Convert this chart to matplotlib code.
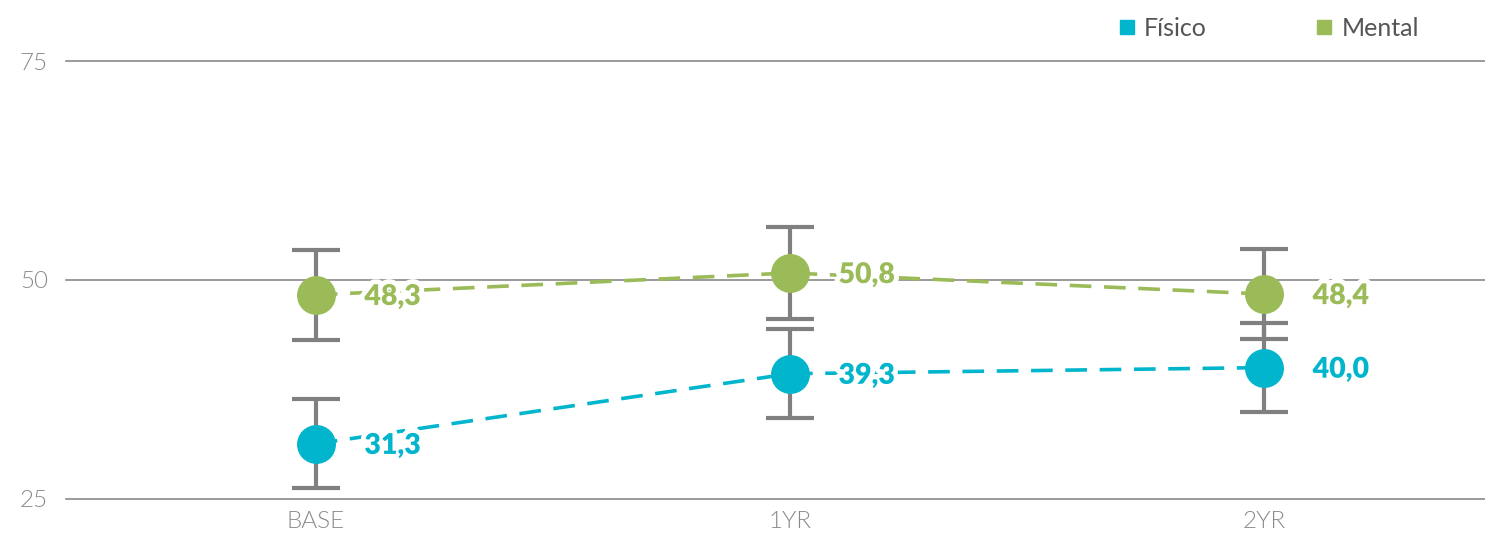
import matplotlib
matplotlib.use('Agg')
import matplotlib.pyplot as plt
import matplotlib.patheffects as pe
from matplotlib.lines import Line2D

plt.rcParams['font.family'] = ['Lato', 'DejaVu Sans']

CATEGORIAS = ['BASE', '1YR', '2YR']
FISICO = [31.3, 39.3, 40.0]
FISICO_ERR = [5.1, 5.1, 5.1]
MENTAL = [48.3, 50.8, 48.4]
MENTAL_ERR = [5.1, 5.2, 5.1]
Y_TICKS = [25, 50, 75]

COR_FISICO = '#00B5CC'
COR_MENTAL = '#9BBB59'
COR_ERRO = '#808080'


def rotulo(v):
    return f"{v:.1f}".replace('.', ',')


def desenhar_serie(ax, xs, valores, erros, cor):
    ax.plot(xs, valores, color=cor, lw=2.6, dashes=(6, 3.5), zorder=2)
    ax.errorbar(xs, valores, yerr=erros, fmt='none', ecolor=COR_ERRO,
                elinewidth=3, capsize=17, capthick=3, zorder=3)
    ax.plot(xs, valores, 'o', color=cor, markersize=27, zorder=4)
    for x, v in zip(xs, valores):
        t = ax.annotate(rotulo(v), (x, v), xytext=(35, -1.5), textcoords='offset points',
                        ha='left', va='center', fontsize=20.5, fontweight='heavy', color=cor,
                        zorder=5)
        # contorno branco para "cortar" a linha tracejada atras do numero
        t.set_path_effects([pe.withStroke(linewidth=7, foreground='white')])


fig = plt.figure(figsize=(14.85, 5.37), dpi=100)
ax = fig.add_axes([0.0444, 0.0708, 0.9556, 0.8156])
xs = list(range(len(CATEGORIAS)))

for y in Y_TICKS:
    ax.axhline(y, color='#7f7f7f', lw=1.1, zorder=1, clip_on=False)

desenhar_serie(ax, xs, MENTAL, MENTAL_ERR, COR_MENTAL)
desenhar_serie(ax, xs, FISICO, FISICO_ERR, COR_FISICO)

ax.set_ylim(25, 75)
ax.set_xlim(-0.527, 2.466)
ax.set_yticks(Y_TICKS)
ax.set_xticks(xs, CATEGORIAS)
ax.tick_params(length=0, labelsize=17.5, labelcolor='#8a8a8a', pad=9)
ax.tick_params(axis='y', pad=13)
for lbl in ax.get_xticklabels() + ax.get_yticklabels():
    lbl.set_fontweight(300)
for s in ax.spines.values():
    s.set_visible(False)

handles = [Line2D([], [], marker='s', ls='none', color=COR_FISICO, markersize=10),
           Line2D([], [], marker='s', ls='none', color=COR_MENTAL, markersize=10)]
leg = fig.legend(handles, ['Físico', 'Mental'], loc='upper right', bbox_to_anchor=(0.971, 1.01),
                 ncol=2, frameon=False, fontsize=18, handletextpad=0.3, columnspacing=4.3,
                 handlelength=0.8)
for t in leg.get_texts():
    t.set_color('#555555')

fig.savefig('out.png', dpi=100)
